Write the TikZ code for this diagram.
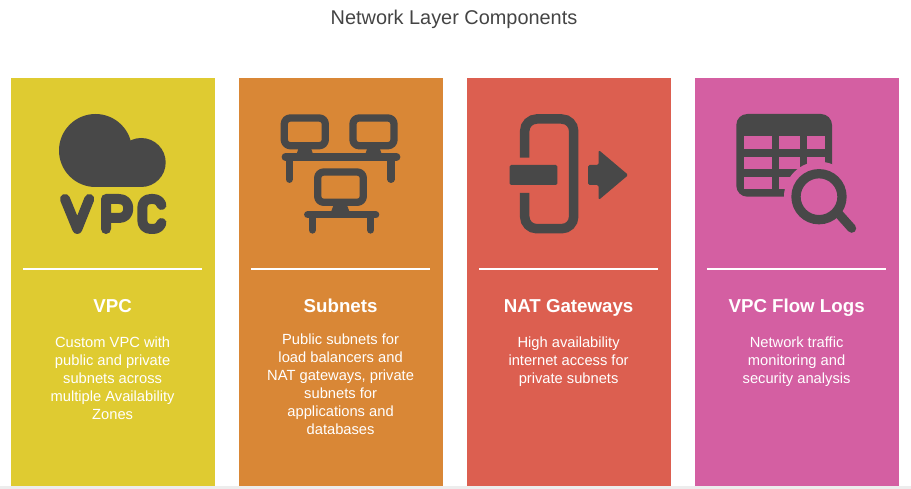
\documentclass[tikz,border=0pt]{standalone}
\usepackage{fontspec}
\setmainfont{Liberation Sans}
\usetikzlibrary{calc}
\definecolor{iconGray}{HTML}{484848}
\definecolor{titleGray}{HTML}{444444}
\definecolor{vpcYellow}{HTML}{DFCB31}
\definecolor{subnetOrange}{HTML}{D98736}
\definecolor{natRed}{HTML}{DC5F50}
\definecolor{logPink}{HTML}{D45FA2}
\tikzset{
    cardbox/.style={anchor=north west, minimum width=204pt, minimum height=408pt, inner sep=0pt, outer sep=0pt},
    headtext/.style={text=white, font=\fontsize{18.7}{22}\selectfont\bfseries, anchor=base, inner sep=0pt},
    bodytext/.style={text=white, font=\fontsize{14.7}{18}\selectfont, align=center, anchor=north, inner sep=0pt},
    icon/.style={draw=iconGray, line width=7.3pt, line cap=round, line join=round}
}
\begin{document}
\begin{tikzpicture}[x=1pt, y=-1pt]
    \def\cardtop{78}
    \def\ruley{269}

    \useasboundingbox (0,0) rectangle (911,489);

    % Bottom strip
    \fill[black!7] (0,486) rectangle (911,489);

    % Title
    \node[text=titleGray, font=\fontsize{19.9}{24}\selectfont, anchor=base, inner sep=0pt] (title) at (454,25) {Network Layer Components};

    % Cards
    \foreach \n/\x/\col/\head/\bodyy/\body in {
        vpc/10.6/vpcYellow/VPC/337/{Custom VPC with\\public and private\\subnets across\\multiple Availability\\Zones},
        subnet/238.6/subnetOrange/Subnets/334/{Public subnets for\\load balancers and\\NAT gateways, private\\subnets for\\applications and\\databases},
        nat/466.6/natRed/NAT Gateways/337/{High availability\\internet access for\\private subnets},
        log/694.6/logPink/VPC Flow Logs/337/{Network traffic\\monitoring and\\security analysis}}{
        \node[cardbox, fill=\col] (\n card) at (\x,\cardtop) {};
        \coordinate (\n L) at (\x+12.3,\ruley);
        \coordinate (\n R) at (\x+191.8,\ruley);
        \draw[white, line width=1.7pt] (\n L) -- (\n R);
        \node[headtext] (\n head) at (\x+102,312.5) {\head};
        \node[bodytext] (\n body) at (\x+102,\bodyy) {\body};
    }

    % VPC icon
    \fill[iconGray] (95.5,150.5) circle [radius=36.5];
    \fill[iconGray] (141.2,162.5) circle [radius=24.5];
    \fill[iconGray] (95.5,150) rectangle (141.2,187);
    \begin{scope}[draw=iconGray, line width=10pt, line cap=round, line join=round]
        \draw (65,199) -- (77.3,229) -- (89.3,199);
        \draw (106,229) -- (106,199) -- (119,199) .. controls (125,199) and (128.3,203) .. (128.3,208.5) .. controls (128.3,214) and (125,218) .. (119,218) -- (106,218);
        \draw (161.5,205) .. controls (160,201) and (157,199) .. (153,199) -- (151,199) .. controls (145,199) and (142.3,203) .. (142.3,208) -- (142.3,220) .. controls (142.3,225) and (145,229) .. (151,229) -- (153,229) .. controls (157,229) and (160,227) .. (161.5,223);
    \end{scope}

    % Subnet icon, top monitors and bench
    \foreach \mx in {284.3,353}{
        \draw[icon, rounded corners=6pt] (\mx,118) rectangle (\mx+41,145.7);
        \fill[iconGray] (\mx+14.7,147) -- (\mx+26.3,147) -- (\mx+29,155) -- (\mx+12,155) -- cycle;
    }
    \draw[icon] (285.3,157) -- (396.7,157);
    \draw[icon] (289.3,157) -- (289.3,179.3);
    \draw[icon] (391,157) -- (391,179.3);

    % Subnet icon, bottom monitor and bench
    \draw[icon, rounded corners=6pt] (317.7,172) rectangle (363.3,202.3);
    \fill[iconGray] (334,204) -- (346.6,204) -- (350,213) -- (330.6,213) -- cycle;
    \draw[icon] (307.7,214.7) -- (375.7,214.7);
    \draw[icon] (312.3,214.7) -- (312.3,230);
    \draw[icon] (370.7,214.7) -- (370.7,230);

    % NAT icon
    \draw[iconGray, line width=9.5pt, rounded corners=12pt] (524.7,157.7) -- (524.7,119) -- (573.7,119) -- (573.7,228.7) -- (524.7,228.7) -- (524.7,193);
    \fill[iconGray, rounded corners=1.5pt] (509.7,165) rectangle (557.3,185);
    \fill[iconGray, rounded corners=1.5pt] (588,165) -- (598.7,165) -- (598.7,150) -- (628.3,175) -- (598.7,200) -- (598.7,185) -- (588,185) -- cycle;

    % Flow log icon, table
    \fill[iconGray, rounded corners=11pt] (736.3,114) rectangle (832,196.7);
    \foreach \cx/\cw in {744/28,779.3/20.7,807.3/17.7}{
        \foreach \cy/\ch in {136/13,156.7/12.3,176.7/12.6}{
            \fill[logPink] (\cx,\cy) rectangle (\cx+\cw,\cy+\ch);
        }
    }
    % Flow log icon, magnifier
    \fill[logPink] (819,196.7) circle [radius=35];
    \draw[iconGray, line width=9.3pt] (819,196.7) circle [radius=23];
    \draw[iconGray, line width=9pt, line cap=round] (838.3,213.3) -- (851.7,228.3);
\end{tikzpicture}
\end{document}
